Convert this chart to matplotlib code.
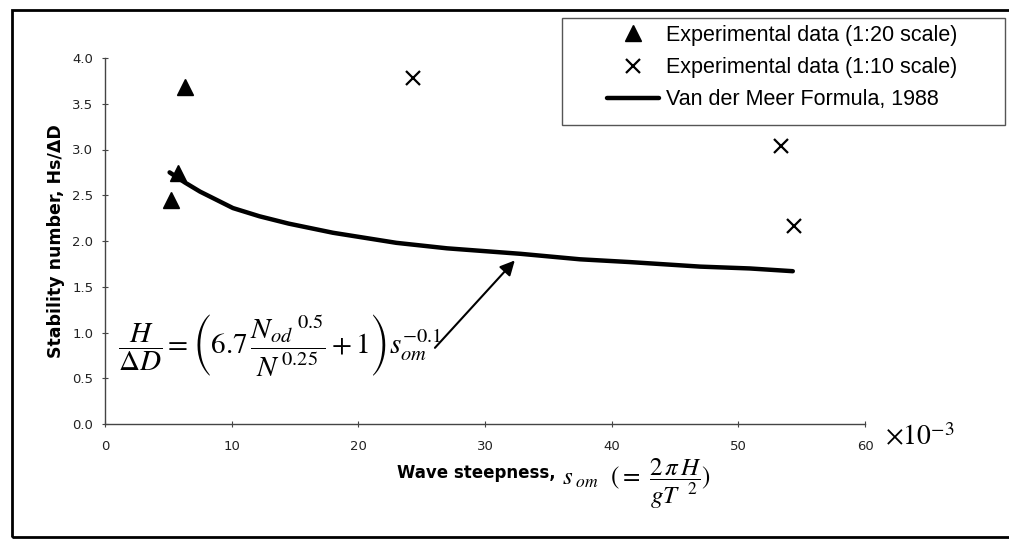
import matplotlib
matplotlib.use("Agg")
import matplotlib.pyplot as plt
from matplotlib.patches import Rectangle

# Data (x in units of 1e-3)
tri_x = [6.3, 5.8, 5.2]
tri_y = [3.68, 2.74, 2.45]
cross_x = [24.3, 53.4, 54.4]
cross_y = [3.78, 3.04, 2.16]
curve_x = [5.1, 6.3, 7.5, 8.8, 10.1, 12.2, 14.5, 18.0, 23.0, 27.0, 32.8, 37.5, 41.4, 47.0, 50.9, 54.3]
curve_y = [2.75, 2.64, 2.54, 2.45, 2.36, 2.27, 2.19, 2.09, 1.98, 1.92, 1.86, 1.80, 1.77, 1.72, 1.70, 1.67]
x_ticks = [0, 10, 20, 30, 40, 50, 60]
y_ticks = [0.0, 0.5, 1.0, 1.5, 2.0, 2.5, 3.0, 3.5, 4.0]
labels = ["Experimental data (1:20 scale)", "Experimental data (1:10 scale)",
          "Van der Meer Formula, 1988"]

W, H = 1009, 540
fig = plt.figure(figsize=(W / 100, H / 100), dpi=100)
ax = fig.add_axes([105 / W, 1 - 424 / H, 760 / W, 366 / H])

l1, = ax.plot(tri_x, tri_y, linestyle="none", marker="^", color="black", ms=11)
l2, = ax.plot(cross_x, cross_y, linestyle="none", marker="x", color="black", ms=10, mew=1.6)
l3, = ax.plot(curve_x, curve_y, color="black", lw=3.2, solid_capstyle="round")

ax.set_xlim(0, 60)
ax.set_ylim(0, 4)
ax.set_xticks(x_ticks)
ax.set_yticks(y_ticks)
ax.set_yticklabels([f"{v:.1f}" for v in y_ticks])
for s in ["top", "right"]:
    ax.spines[s].set_visible(False)
for s in ["left", "bottom"]:
    ax.spines[s].set_color("#444444")
    ax.spines[s].set_linewidth(1.0)
ax.tick_params(axis="both", direction="inout", length=5, width=0.8, color="#444444",
               labelsize=9.5, labelcolor="#222222")
ax.tick_params(axis="x", pad=9)
ax.tick_params(axis="y", pad=6)

ax.set_ylabel("Stability number, Hs/ΔD", fontsize=12.5, fontweight="bold")
ax.yaxis.set_label_coords(-0.0526, 0.5)

# Equation inside the plot
ax.text(1.0, 0.86,
        r"$\dfrac{H}{\Delta D}=\left(6.7\,\dfrac{{N_{od}}^{\ 0.5}}{N^{\,0.25}}+1\right)s_{om}^{-0.1}$",
        fontsize=21, math_fontfamily="stix", va="center", ha="left")

# Arrow
ax.annotate("", xy=(32.5, 1.81), xytext=(25.9, 0.81),
            arrowprops=dict(arrowstyle="-|>", color="black", lw=1.5, mutation_scale=22))

# X label pieces
fig.text(397 / W, 1 - 473 / H, "Wave steepness,", fontsize=12, fontweight="bold",
         ha="left", va="center")
fig.text(562 / W, 1 - 484 / H, r"$s_{\ om}\ \ (=\ \dfrac{2\,\pi\, H}{gT^{\ \ 2}})$",
         fontsize=18, math_fontfamily="stix", ha="left", va="center")
fig.text(885 / W, 1 - 445 / H, r"$\times 10^{-3}$", fontsize=20,
         math_fontfamily="stix", ha="left", va="baseline")

# Legend (box drawn separately)
leg = fig.legend([l1, l2, l3], labels, loc="upper left",
                 bbox_to_anchor=(607 / W, 1 - 25 / H), frameon=False, borderaxespad=0,
                 prop={"family": "Liberation Sans", "size": 15.5},
                 handlelength=2.4, handletextpad=0.33, labelspacing=0.52, borderpad=0)
fig.patches.append(Rectangle((562 / W, 1 - 125 / H), (1005 - 562) / W, (125 - 18) / H,
                             transform=fig.transFigure, fill=False,
                             edgecolor="#555555", lw=1.0))

# Outer frame
fig.patches.append(Rectangle((12 / W, 3 / H), 1.2, 1 - 13 / H, transform=fig.transFigure,
                             fill=False, edgecolor="black", lw=2))

fig.savefig("out.png", dpi=100)
